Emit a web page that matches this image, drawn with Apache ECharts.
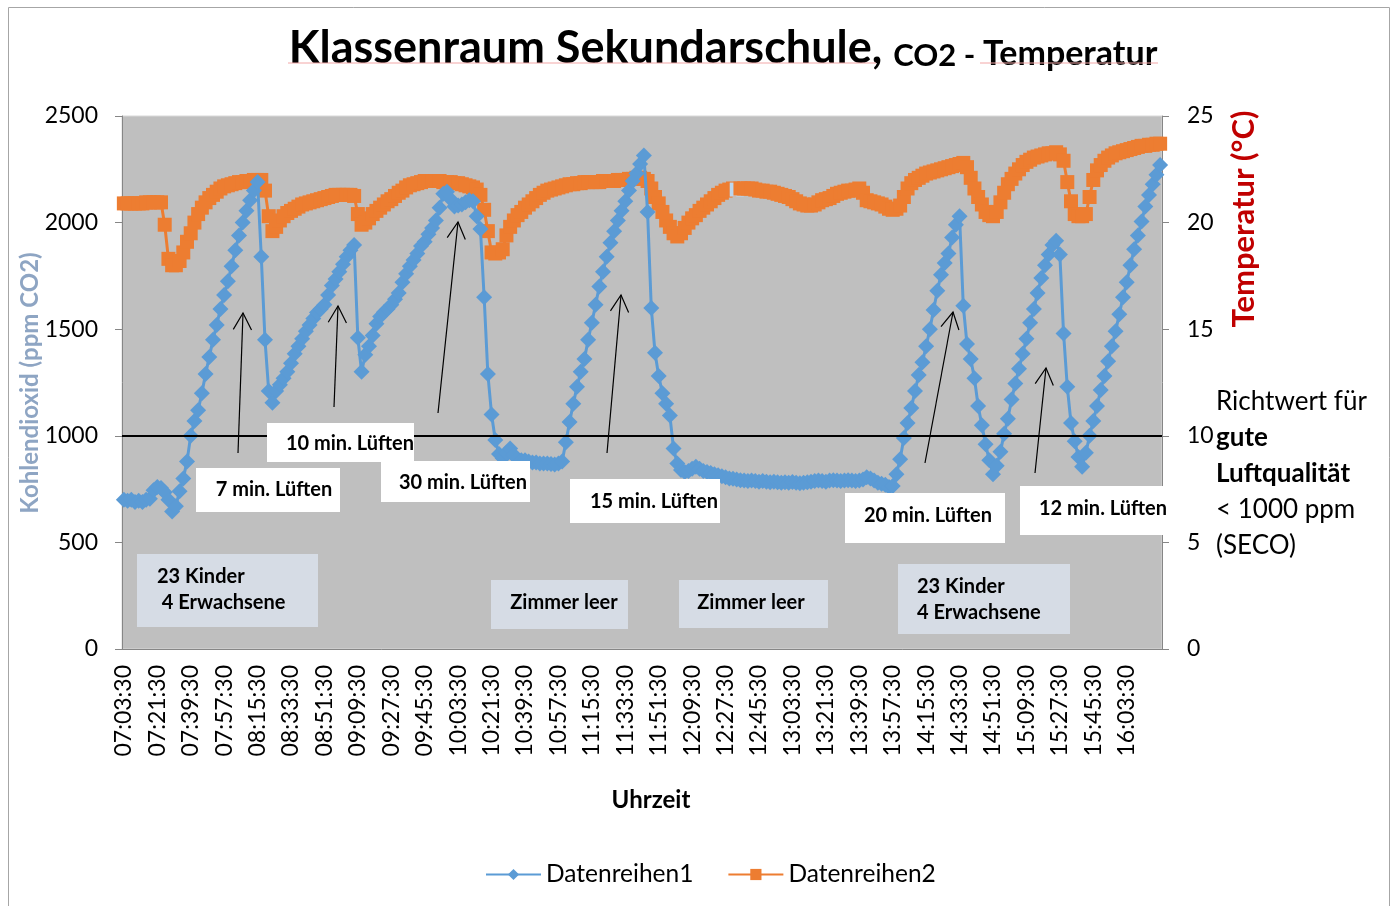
<!DOCTYPE html>
<html>
<head>
<meta charset="UTF-8">
<title>Klassenraum Sekundarschule, CO2 - Temperatur</title>
<script src="https://cdn.jsdelivr.net/npm/echarts@6/dist/echarts.min.js"></script>
<style>
  html, body { margin: 0; padding: 0; background: #fff; }
  #main { width: 1396px; height: 906px; }
</style>
</head>
<body>
<div id="main"></div>
<script>
// Messung alle 2 Minuten ab 07:03:30
const startZeit = '07:03:30';
const schrittMinuten = 2;

// Datenreihen1: Kohlendioxid (ppm)
const co2 = [
  700, 695, 700, 690, 695, 690, 700, 705, 745, 760,
  755, 735, 700, 645, 670, 740, 800, 880, 1000, 1070,
  1120, 1200, 1290, 1370, 1450, 1520, 1595, 1660, 1725, 1795,
  1870, 1940, 2000, 2055, 2105, 2150, 2190, 1840, 1450, 1210,
  1155, 1210, 1240, 1270, 1300, 1340, 1385, 1420, 1455, 1490,
  1520, 1550, 1578, 1595, 1615, 1660, 1705, 1735, 1770, 1805,
  1840, 1870, 1895, 1460, 1300, 1380, 1420, 1470, 1525, 1560,
  1580, 1595, 1615, 1640, 1670, 1720, 1760, 1795, 1825, 1855,
  1890, 1910, 1945, 1975, 2010, 2070, 2135, 2145, 2110, 2075,
  2080, 2085, 2095, 2105, 2100, 2030, 1970, 1650, 1290, 1100,
  980, 915, 895, 920, 940, 910, 890, 885, 885, 880,
  875, 875, 870, 870, 870, 868, 865, 870, 880, 970,
  1065, 1150, 1230, 1300, 1360, 1450, 1530, 1615, 1700, 1770,
  1840, 1905, 1960, 2010, 2055, 2100, 2150, 2195, 2230, 2275,
  2315, 2050, 1600, 1390, 1280, 1200, 1150, 1095, 940, 870,
  840, 830, 835, 845, 855, 845, 835, 830, 825, 820,
  815, 810, 805, 800, 798, 795, 792, 790, 788, 790,
  788, 785, 788, 785, 782, 785, 782, 780, 782, 780,
  783, 780, 778, 780, 782, 785, 788, 790, 788, 785,
  790, 792, 790, 788, 790, 792, 790, 788, 790, 795,
  805, 800, 790, 780, 775, 770, 760, 765, 820, 890,
  990, 1060, 1130, 1210, 1285, 1345, 1420, 1500, 1590, 1680,
  1755, 1810, 1855, 1930, 1990, 2030, 1610, 1430, 1360, 1270,
  1140, 1050, 960, 885, 820, 860, 925, 1010, 1080, 1170,
  1245, 1315, 1385, 1455, 1530, 1595, 1670, 1740, 1800, 1850,
  1895, 1915, 1850, 1480, 1230, 1060, 975, 900, 855, 920,
  1000, 1070, 1140, 1215, 1280, 1350, 1420, 1490, 1570, 1650,
  1720, 1800, 1875, 1940, 2005, 2075, 2130, 2180, 2225, 2270
];

// Datenreihen2: Temperatur (°C)
const temperatur = [
  20.9, 20.9, 20.9, 20.9, 20.9, 20.9, 20.95, 20.95, 20.95, 20.95,
  20.95, 19.9, 18.3, 18.0, 18.0, 18.2, 18.6, 19.1, 19.5, 20.0,
  20.4, 20.7, 20.95, 21.15, 21.3, 21.45, 21.6, 21.7, 21.75, 21.8,
  21.85, 21.9, 21.9, 21.95, 21.95, 22.0, 22.0, 22.0, 21.5, 20.3,
  19.6, 19.8, 20.1, 20.3, 20.45, 20.55, 20.65, 20.75, 20.85, 20.9,
  20.95, 21.0, 21.05, 21.1, 21.15, 21.2, 21.25, 21.3, 21.3, 21.3,
  21.3, 21.3, 21.25, 20.4, 19.9, 20.0, 20.2, 20.4, 20.55, 20.7,
  20.85, 21.0, 21.1, 21.25, 21.4, 21.5, 21.65, 21.75, 21.8, 21.85,
  21.9, 21.95, 21.95, 21.95, 21.95, 21.95, 21.9, 21.9, 21.9, 21.85,
  21.85, 21.8, 21.75, 21.7, 21.65, 21.55, 21.3, 20.6, 19.6, 18.6,
  18.55, 18.6, 18.75, 19.4, 19.8, 20.1, 20.35, 20.5, 20.7, 20.85,
  21.0, 21.15, 21.3, 21.4, 21.5, 21.55, 21.6, 21.65, 21.7, 21.75,
  21.8, 21.8, 21.85, 21.85, 21.9, 21.9, 21.9, 21.9, 21.9, 21.95,
  21.95, 21.95, 21.95, 22.0, 22.0, 22.0, 22.05, 22.05, 22.1, 22.1,
  22.05, 21.95, 21.6, 21.2, 20.9, 20.5, 20.1, 19.8, 19.5, 19.35,
  19.5, 19.75, 20.0, 20.2, 20.35, 20.55, 20.7, 20.85, 21.0, 21.15,
  21.3, 21.4, 21.5, 21.55, 21.6, 21.55, 21.6, 21.6, 21.6, 21.6,
  21.55, 21.5, 21.5, 21.45, 21.45, 21.4, 21.35, 21.3, 21.25, 21.2,
  21.1, 21.0, 20.9, 20.85, 20.8, 20.8, 20.85, 20.95, 21.05, 21.1,
  21.15, 21.25, 21.35, 21.4, 21.45, 21.5, 21.5, 21.55, 21.6, 21.4,
  21.05, 21.0, 20.95, 20.9, 20.85, 20.75, 20.65, 20.6, 20.65, 20.8,
  21.2, 21.6, 21.85, 22.0, 22.1, 22.2, 22.3, 22.35, 22.4, 22.45,
  22.5, 22.55, 22.6, 22.65, 22.7, 22.75, 22.8, 22.6, 22.1, 21.6,
  21.2, 20.85, 20.5, 20.35, 20.3, 20.5, 20.95, 21.4, 21.8, 22.05,
  22.3, 22.5, 22.7, 22.85, 22.95, 23.05, 23.1, 23.15, 23.2, 23.25,
  23.25, 23.3, 23.2, 22.9, 21.9, 21.0, 20.4, 20.3, 20.3, 20.4,
  21.2, 22.0, 22.45, 22.7, 22.9, 23.05, 23.15, 23.25, 23.3, 23.35,
  23.4, 23.45, 23.5, 23.55, 23.6, 23.6, 23.65, 23.65, 23.7, 23.7
];

const richtwertCo2 = 1000;
const markierterPunkt = 165; // in Excel ausgewaehlter Punkt

const FONT = 'Lato, "Open Sans", sans-serif';

// Zeitachse
const [h0, m0, s0] = startZeit.split(':').map(Number);
const pad = n => String(n).padStart(2, '0');
const zeiten = co2.map((_, i) => {
  const t = h0 * 60 + m0 + i * schrittMinuten;
  return pad(Math.floor(t / 60)) + ':' + pad(t % 60) + ':' + pad(s0);
});

// Notizen im Diagramm
const lueften = [
  { text: '7 min. Lüften',  box: [196, 468, 144, 44], tx: 274, ty: 490, pfeil: [238, 453, 243, 313] },
  { text: '10 min. Lüften', box: [267, 423, 147, 39], tx: 350, ty: 444, pfeil: [334, 407, 338, 306] },
  { text: '30 min. Lüften', box: [381, 461, 149, 41], tx: 463, ty: 483, pfeil: [438, 413, 458, 222] },
  { text: '15 min. Lüften', box: [570, 479, 150, 44], tx: 654, ty: 502, pfeil: [607, 453, 621, 295] },
  { text: '20 min. Lüften', box: [845, 493, 160, 50], tx: 928, ty: 516, pfeil: [925, 463, 953, 312] },
  { text: '12 min. Lüften', box: [1020, 486, 150, 49], tx: 1103, ty: 509, pfeil: [1035, 473, 1046, 368] }
];
const belegung = [
  { text: '23 Kinder\n 4 Erwachsene', box: [137, 554, 181, 73], tx: 157, ty: 590, align: 'left' },
  { text: 'Zimmer leer', box: [491, 580, 137, 49], tx: 564, ty: 603, align: 'center' },
  { text: 'Zimmer leer', box: [679, 580, 149, 48], tx: 751, ty: 603, align: 'center' },
  { text: '23 Kinder\n4 Erwachsene', box: [898, 564, 172, 70], tx: 917, ty: 600, align: 'left' }
];

function rect(b, fill) {
  return { type: 'rect', z: 100, shape: { x: b[0], y: b[1], width: b[2], height: b[3] }, style: { fill: fill } };
}
function text(x, y, str, size, align, extra) {
  return {
    type: 'text', z: 101, x: x, y: y,
    style: Object.assign({
      text: str, fill: '#000', fontSize: size, fontWeight: 'bold', fontFamily: FONT,
      textAlign: align, align: align, textVerticalAlign: 'middle', verticalAlign: 'middle', lineHeight: 26
    }, extra || {})
  };
}
function pfeil(p) {
  const [x1, y1, x2, y2] = p;
  const a = Math.atan2(y2 - y1, x2 - x1), h = 19, s = 0.5;
  return {
    type: 'group', z: 100, children: [
      { type: 'line', z: 100, shape: { x1: x1, y1: y1, x2: x2, y2: y2 }, style: { stroke: '#000', lineWidth: 1.2 } },
      { type: 'polyline', z: 100, shape: { points: [
        [x2 - h * Math.cos(a - s), y2 - h * Math.sin(a - s)], [x2, y2],
        [x2 - h * Math.cos(a + s), y2 - h * Math.sin(a + s)]] },
        style: { stroke: '#000', fill: null, lineWidth: 1.2 } }
    ]
  };
}

const graphic = [
  { type: 'rect', z: 0, shape: { x: 8.5, y: 7.5, width: 1381, height: 910 }, style: { fill: null, stroke: '#A6A6A6', lineWidth: 1 } },
  {
    type: 'text', z: 101, x: 723, y: 45,
    style: {
      text: '{a|Klassenraum Sekundarschule, }{b|CO2 - }{c|Temperatur}',
      textAlign: 'center', align: 'center', textVerticalAlign: 'middle', verticalAlign: 'middle',
      rich: {
        a: { fontSize: 45, fontWeight: 'bold', fontFamily: FONT, fill: '#000', verticalAlign: 'bottom', lineHeight: 52 },
        b: { fontSize: 31, fontWeight: 'bold', fontFamily: FONT, fill: '#000', verticalAlign: 'bottom', lineHeight: 46 },
        c: { fontSize: 34, fontWeight: 'bold', fontFamily: FONT, fill: '#000', verticalAlign: 'bottom', lineHeight: 47 }
      }
    }
  },
  { type: 'line', z: 101, shape: { x1: 288, y1: 63, x2: 876, y2: 63 }, style: { stroke: '#F2A7A7', lineWidth: 1 } },
  { type: 'line', z: 101, shape: { x1: 980, y1: 63, x2: 1158, y2: 63 }, style: { stroke: '#F2A7A7', lineWidth: 1 } },
  Object.assign(text(30, 383, 'Kohlendioxid (ppm CO2)', 24, 'center', { fill: '#8EA5C3' }), { rotation: Math.PI / 2 }),
  Object.assign(text(1244, 219, 'Temperatur (°C)', 31, 'center', { fill: '#C00000' }), { rotation: Math.PI / 2 }),
  text(651, 800, 'Uhrzeit', 24, 'center'),
  {
    type: 'text', z: 101, x: 1216, y: 384,
    style: {
      text: '{n|Richtwert für}\n{f|gute}\n{f|Luftqualität}\n{n|< 1000 ppm}\n{n|(SECO)}',
      textAlign: 'left', align: 'left', textVerticalAlign: 'top', verticalAlign: 'top',
      rich: {
        n: { fontSize: 26, fontFamily: FONT, fill: '#000', lineHeight: 36 },
        f: { fontSize: 26, fontWeight: 'bold', fontFamily: FONT, fill: '#000', lineHeight: 36 }
      }
    }
  }
];
lueften.forEach(n => {
  graphic.push(rect(n.box, '#FFFFFF'));
  graphic.push(text(n.tx, n.ty, n.text, 20, 'center'));
  graphic.push(pfeil(n.pfeil));
});
belegung.forEach(n => {
  graphic.push(rect(n.box, '#D6DCE5'));
  graphic.push(text(n.tx, n.ty, n.text, 20, n.align));
});

const chart = echarts.init(document.getElementById('main'));
chart.setOption({
  animation: false,
  backgroundColor: '#FFFFFF',
  grid: {
    left: 122, right: 234, top: 116, bottom: 257,
    show: true, backgroundColor: '#BFBFBF', borderColor: '#D9D9D9', borderWidth: 1
  },
  legend: {
    data: ['Datenreihen1', 'Datenreihen2'],
    left: 480, top: 857,
    itemWidth: 55, itemHeight: 14, itemGap: 34,
    textStyle: { fontSize: 24.5, fontFamily: FONT, color: '#000' }
  },
  xAxis: {
    type: 'category',
    data: zeiten,
    boundaryGap: true,
    axisLine: { lineStyle: { color: '#868686', width: 1 } },
    axisTick: { interval: 0, length: 4, lineStyle: { color: '#9A9A9A' } },
    axisLabel: {
      interval: 8, rotate: 90, margin: 16, fontSize: 23, fontFamily: FONT, color: '#000',
      showMinLabel: true, showMaxLabel: false
    },
    splitLine: { show: false }
  },
  yAxis: [
    {
      type: 'value', min: 0, max: 2500, interval: 500,
      axisLine: { show: true, lineStyle: { color: '#868686' } },
      axisTick: { show: true, length: 7, lineStyle: { color: '#868686' } },
      axisLabel: { margin: 24, fontSize: 23, fontFamily: FONT, color: '#000', formatter: v => String(v) },
      splitLine: { show: false }
    },
    {
      type: 'value', min: 0, max: 25, interval: 5, position: 'right',
      axisLine: { show: true, lineStyle: { color: '#868686' } },
      axisTick: { show: true, length: 7, lineStyle: { color: '#868686' } },
      axisLabel: { margin: 25, fontSize: 23, fontFamily: FONT, color: '#000', formatter: v => String(v) },
      splitLine: { show: false }
    }
  ],
  series: [
    {
      name: 'Datenreihen1', type: 'line', yAxisIndex: 0, z: 4,
      data: co2,
      symbol: 'diamond', symbolSize: 16, showAllSymbol: true,
      itemStyle: { color: '#5B9BD5' },
      lineStyle: { color: '#5B9BD5', width: 3 },
      markLine: {
        silent: true, symbol: 'none', label: { show: false },
        lineStyle: { color: '#000', width: 2, type: 'solid' },
        data: [{ yAxis: richtwertCo2 }]
      }
    },
    {
      name: 'Datenreihen2', type: 'line', yAxisIndex: 1, z: 3,
      data: temperatur.map((v, i) => i === markierterPunkt ? { value: v, itemStyle: { color: '#BDD7EE' } } : v),
      symbol: 'rect', symbolSize: 14, showAllSymbol: true,
      itemStyle: { color: '#ED7D31' },
      lineStyle: { color: '#ED7D31', width: 3 }
    }
  ],
  graphic: graphic
});
</script>
</body>
</html>
